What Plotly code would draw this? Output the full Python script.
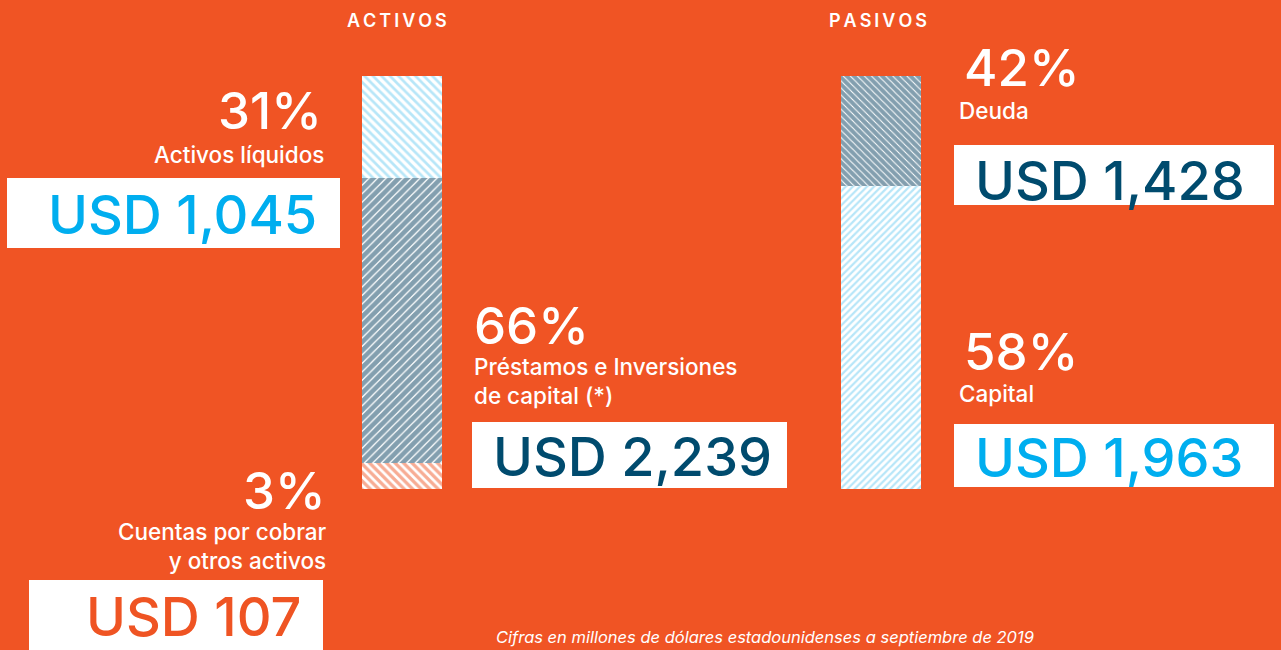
import plotly.graph_objects as go

# ---------------- data ----------------
columns = ["ACTIVOS", "PASIVOS"]
# Activos (bottom -> top)
activos_names = ["Cuentas por cobrar<br>y otros activos", "Préstamos e Inversiones<br>de capital (*)", "Activos líquidos"]
activos_pct = [3, 66, 31]
activos_usd = ["USD 107", "USD 2,239", "USD 1,045"]
activos_bar = [6.3, 69.0, 24.7]      # segment heights as drawn in the picture (% of column)
# Pasivos (bottom -> top)
pasivos_names = ["Capital", "Deuda"]
pasivos_pct = [58, 42]
pasivos_usd = ["USD 1,963", "USD 1,428"]
pasivos_bar = [73.4, 26.6]           # segment heights as drawn in the picture (% of column)
footnote = "Cifras en millones de dólares estadounidenses a septiembre de 2019"

# ---------------- styles ----------------
BG = "#F05424"
LIGHT = "#6FCDF2"
DARK = "#07405F"
ORANGE = "#F05A2A"
TXT_LIGHT = "#00AEEF"
TXT_DARK = "#004B6E"
TXT_ORANGE = "#EF5423"
FONT = "Inter"

act_colors = [ORANGE, DARK, LIGHT]
act_shapes = ["\\", "/", "\\"]
act_solid = [0.55, 0.8, 0.45]
pas_colors = [LIGHT, DARK]
pas_shapes = ["/", "\\"]
pas_solid = [0.45, 0.8]

fig = go.Figure()
for i, v in enumerate(activos_bar):
    fig.add_trace(go.Bar(
        x=[0], y=[v], width=0.167, name=activos_names[i], showlegend=False,
        marker=dict(color="white", line=dict(width=0),
                    pattern=dict(shape=act_shapes[i], fgcolor=act_colors[i], bgcolor="white",
                                 size=6, solidity=act_solid[i], fillmode="overlay")),
        hoverinfo="skip"))
for i, v in enumerate(pasivos_bar):
    fig.add_trace(go.Bar(
        x=[1], y=[v], width=0.165, name=pasivos_names[i], showlegend=False,
        marker=dict(color="white", line=dict(width=0),
                    pattern=dict(shape=pas_shapes[i], fgcolor=pas_colors[i], bgcolor="white",
                                 size=5, solidity=pas_solid[i], fillmode="overlay")),
        hoverinfo="skip"))

W, H = 1281, 650
fig.update_layout(
    width=W, height=H, barmode="stack", bargap=0,
    paper_bgcolor=BG, plot_bgcolor=BG,
    margin=dict(l=0, r=0, t=0, b=0),
    xaxis=dict(range=[-402 / 479, (W - 402) / 479], visible=False, fixedrange=True),
    yaxis=dict(range=[-(H - 489) / 4.13, 100 + 76 / 4.13], visible=False, fixedrange=True),
    font=dict(family=FONT, color="white"),
)

def px(x): return x / W
def py(y): return 1 - y / H

def text(x, y, s, size, color="white", xanchor="left", yanchor="middle", italic=False, weight=500):
    fig.add_annotation(x=px(x), y=py(y), xref="paper", yref="paper", text=s, showarrow=False,
                       xanchor=xanchor, yanchor=yanchor, align=xanchor if xanchor != "center" else "center",
                       font=dict(family=FONT, size=size, color=color,
                                 style="italic" if italic else "normal", weight=weight))

def box(x0, y0, x1, y1):
    fig.add_shape(type="rect", xref="paper", yref="paper", x0=px(x0), x1=px(x1), y0=py(y1), y1=py(y0),
                  fillcolor="white", line=dict(width=0), layer="below")

def spaced(s):
    return "\u2009".join(s)

# headers
text(397, 20, spaced(columns[0]), 18, xanchor="center", weight=600)
text(878, 20, spaced(columns[1]), 18, xanchor="center", weight=600)

# white boxes
box(7, 178, 340, 248)
box(472, 422, 787, 488)
box(29, 580, 323, 650)
box(954, 145, 1274, 205)
box(954, 424, 1274, 487)

PCT = 51
USD = 54
LBL = 22.5

# Activos líquidos
text(324, 110, f"{activos_pct[2]}%", PCT, xanchor="right")
text(326, 154, activos_names[2], LBL, xanchor="right")
text(319, 214, activos_usd[2], USD, color=TXT_LIGHT, xanchor="right")

# Préstamos
text(472, 325, f"{activos_pct[1]}%", PCT)
text(472, 381, activos_names[1], LBL)
text(491, 456, activos_usd[1], USD, color=TXT_DARK)

# Cuentas por cobrar
text(328, 490, f"{activos_pct[0]}%", PCT, xanchor="right")
text(329, 546, activos_names[0], LBL, xanchor="right")
text(303, 616, activos_usd[0], USD, color=TXT_ORANGE, xanchor="right")

# Deuda
text(962, 68, f"{pasivos_pct[1]}%", PCT)
text(957, 110, pasivos_names[1], LBL)
text(973, 180, pasivos_usd[1], USD, color=TXT_DARK)

# Capital
text(962, 351, f"{pasivos_pct[0]}%", PCT)
text(957, 393, pasivos_names[0], LBL)
text(973, 457, pasivos_usd[0], USD, color=TXT_LIGHT)

# footnote
text(765, 637, footnote, 16.5, xanchor="center", italic=True, weight=400)

fig.write_html("out.html", config={"displayModeBar": False},
               post_script="document.body.style.margin='0';document.body.style.overflow='hidden';")
